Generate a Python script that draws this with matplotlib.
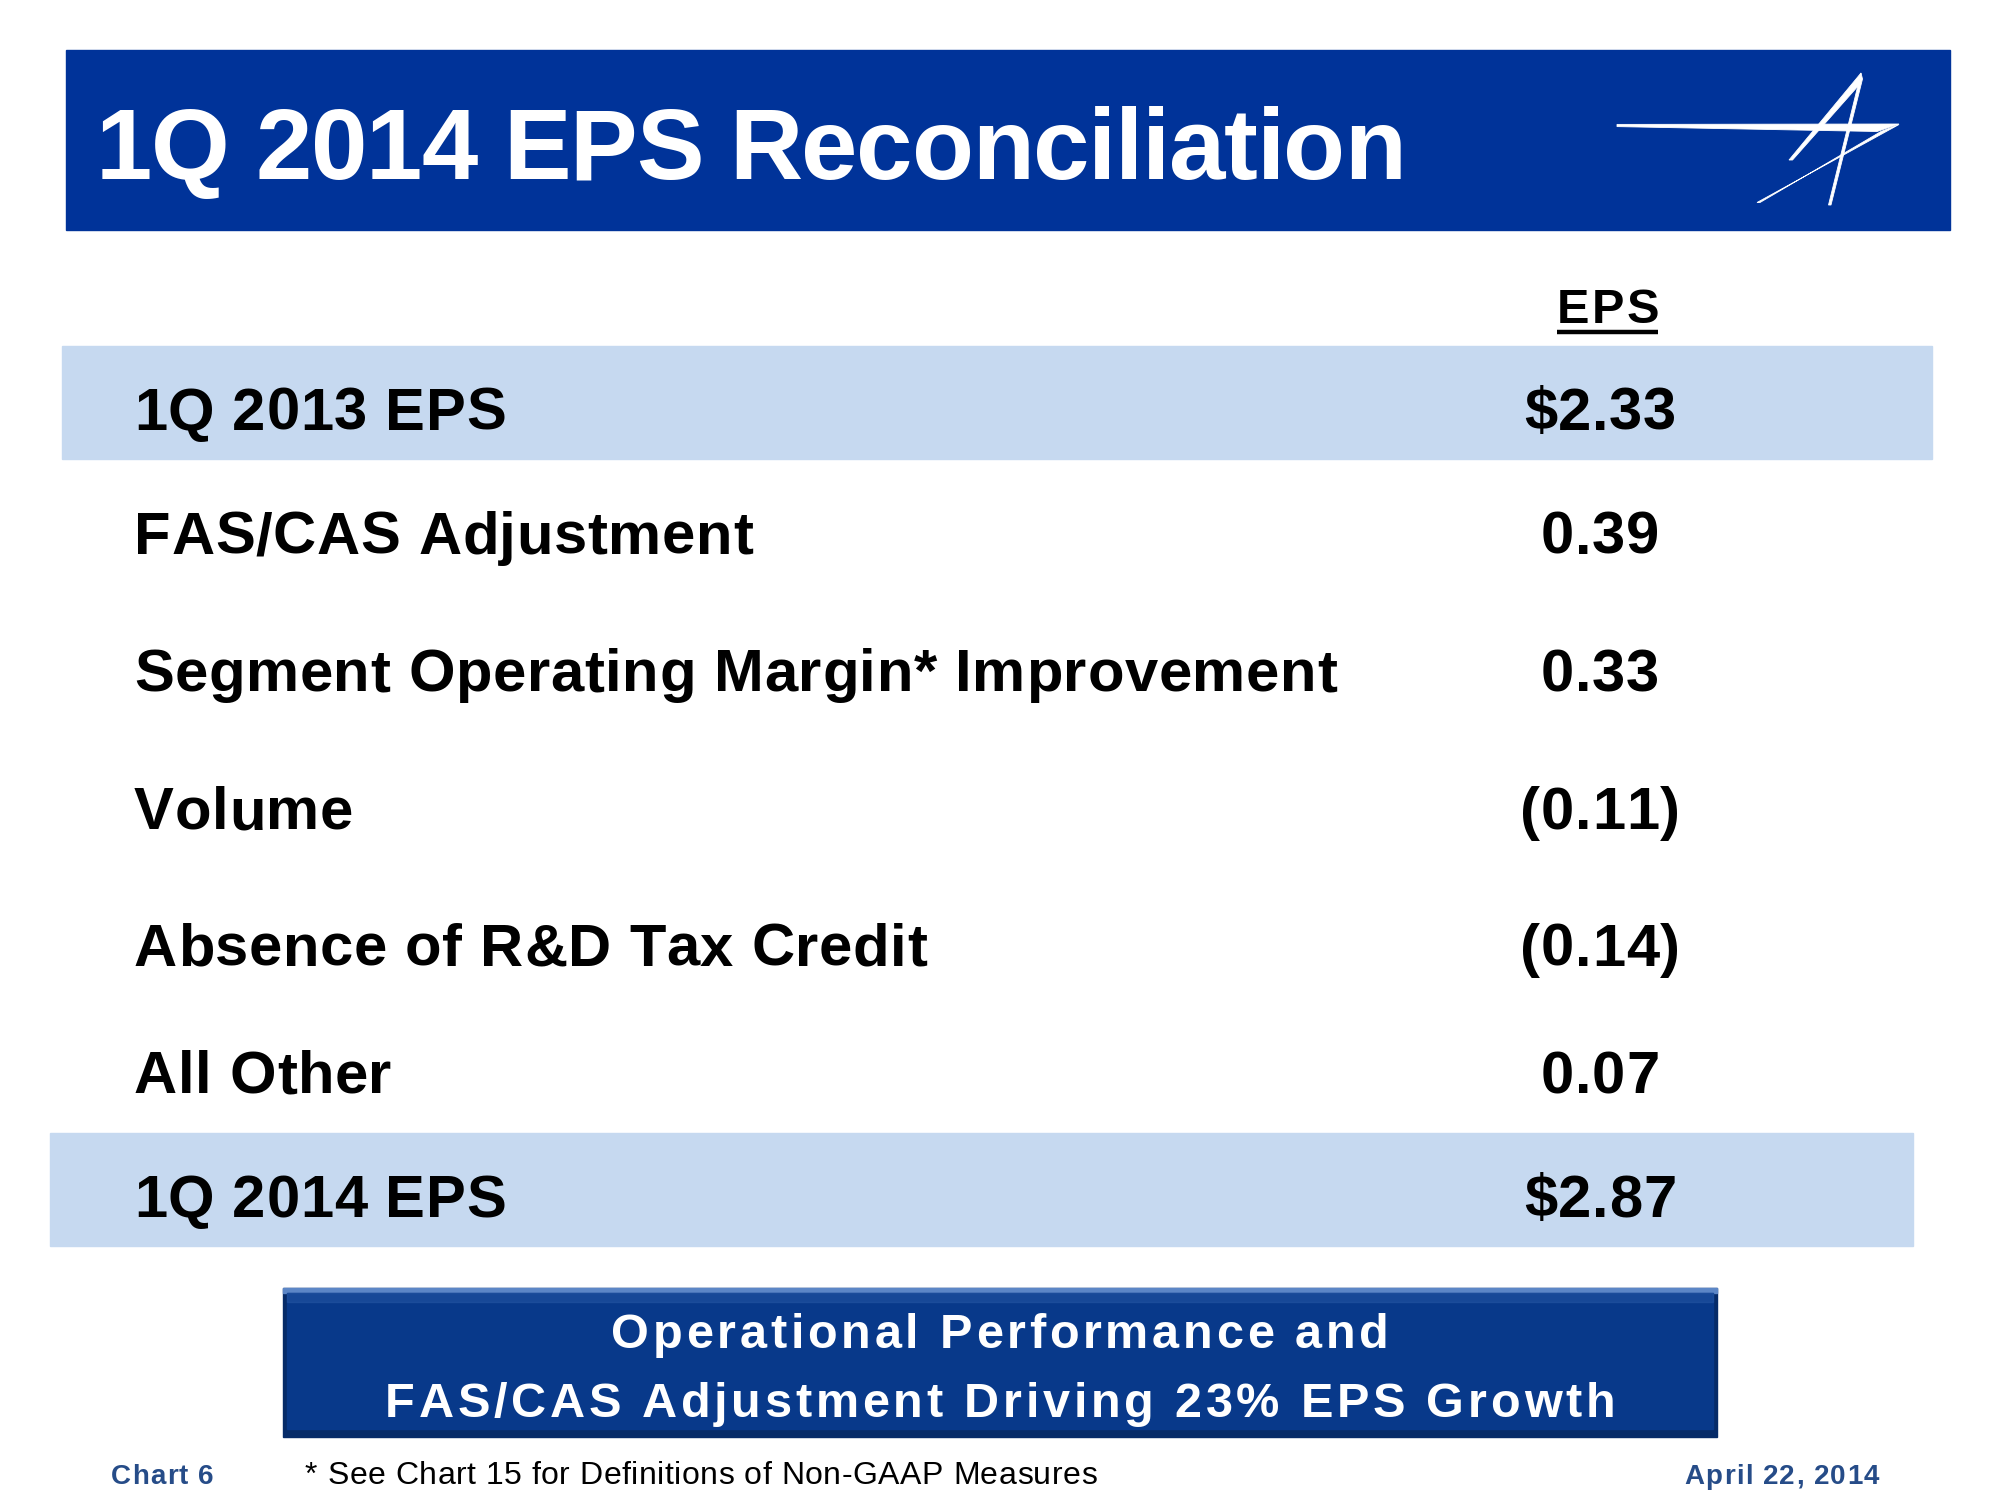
import matplotlib
matplotlib.use("Agg")
import matplotlib.pyplot as plt
from matplotlib.patches import Rectangle, Polygon
from matplotlib.font_manager import FontProperties, findfont, get_font

# ---------------- data ----------------
title = "1Q 2014 EPS Reconciliation"
column_header = "EPS"
row_labels = ["1Q 2013 EPS", "FAS/CAS Adjustment", "Segment Operating Margin* Improvement",
              "Volume", "Absence of R&D Tax Credit", "All Other", "1Q 2014 EPS"]
row_values = [2.33, 0.39, 0.33, -0.11, -0.14, 0.07, 2.87]
row_is_total = [True, False, False, False, False, False, True]
callout_lines = ["Operational Performance and", "FAS/CAS Adjustment Driving 23% EPS Growth"]
footer_left = "Chart 6"
footnote = "* See Chart 15 for Definitions of Non-GAAP Measures"
footer_right = "April 22, 2014"

# ---------------- style ----------------
BANNER = "#003399"
BAND = "#C6D9F0"
BOX = "#08398A"
FOOT_BLUE = "#264C88"
FAM = ["Liberation Sans Narrow", "Liberation Sans", "DejaVu Sans"]

W, H, DPI = 2000, 1500, 100
fig = plt.figure(figsize=(W / DPI, H / DPI), dpi=DPI)
ax = fig.add_axes([0, 0, 1, 1])
ax.set_xlim(0, W)
ax.set_ylim(H, 0)
ax.axis("off")


def fmt(v, total):
    if total:
        return f"${v:.2f}"
    if v < 0:
        return f"({abs(v):.2f})"
    return f"{v:.2f}"


def advances(s, size, weight):
    prop = FontProperties(family=FAM, weight=weight, size=size)
    font = get_font(findfont(prop))
    font.set_size(size, DPI)
    return [font.load_char(ord(c)).linearHoriAdvance / 65536.0 for c in s], prop


def natural_width(s, size, weight):
    adv, _ = advances(s, size, weight)
    return sum(adv)


def spaced(x, y, s, size, track, weight="bold", color="black", ha="left", underline=False):
    adv, prop = advances(s, size, weight)
    total = sum(adv) + track * (len(s) - 1)
    if ha == "center":
        x0 = x - total / 2
    elif ha == "right":
        x0 = x - total
    else:
        x0 = x
    cx = x0
    for c, a in zip(s, adv):
        ax.text(cx, y, c, fontproperties=prop, color=color, ha="left", va="baseline")
        cx += a + track
    if underline:
        ax.plot([x0, x0 + total - track * 0.3], [y + 9, y + 9], color=color, lw=3.2,
                solid_capstyle="butt")
    return total


def fit_track(s, size, weight, target):
    return (target - natural_width(s, size, weight)) / (len(s) - 1)


# ---------------- header banner ----------------
ax.add_patch(Rectangle((66, 50), 1884, 180, color=BANNER, zorder=0))
t_size = 73
spaced(96, 179, title, t_size, fit_track(title, t_size, "bold", 1310), color="white")

# logo (stylised star)
logo = [
    [[1617, 124.4], [1899, 124.0], [1877, 131.5], [1617, 126.6]],
    [[1899, 124.5], [1757, 202.5], [1760, 202.5], [1881, 131.5]],
    [[1861, 73], [1828.5, 205], [1831, 205], [1862.5, 79]],
    [[1861, 73], [1789, 160], [1792.5, 160], [1859, 85]],
]
for poly in logo:
    ax.add_patch(Polygon(poly, closed=True, color="white", lw=0.6))

# ---------------- table ----------------
r_size = 43
track_rows = fit_track(row_labels[2], r_size, "bold", 1203)
baselines = [430, 554, 691, 829, 966, 1093, 1217]
val_x = 1600

spaced(val_x + 8, 323, column_header, 35, track_rows * 0.9 + 1.5, underline=True, ha="center")

band_rects = {0: (62, 346, 1870, 113), 6: (50, 1133, 1863, 113)}
for i, (lab, v, tot) in enumerate(zip(row_labels, row_values, row_is_total)):
    if tot:
        bx, by, bw, bh = band_rects[i]
        ax.add_patch(Rectangle((bx, by), bw, bh, color=BAND, zorder=0))
    spaced(134, baselines[i], lab, r_size, track_rows)
    spaced(val_x, baselines[i], fmt(v, tot), r_size, track_rows, ha="center")

# ---------------- callout box ----------------
bx0, by0, bw, bh = 283, 1288, 1434, 149
ax.add_patch(Rectangle((bx0, by0), bw, bh, color="#062B68", zorder=1))
ax.add_patch(Rectangle((bx0, by0), bw, 5, color="#5C86C6", zorder=2))
ax.add_patch(Rectangle((bx0 + 4, by0 + 5), bw - 8, bh - 13, color=BOX, zorder=2))
ax.add_patch(Rectangle((bx0 + 4, by0 + 5), bw - 8, 9, color="#2A5CA8", zorder=2, alpha=0.45))
c_size = 35
track_c = fit_track(callout_lines[1], c_size, "bold", 1230)
spaced(1000, 1348, callout_lines[0], c_size, track_c, color="white", ha="center")
spaced(1000, 1417, callout_lines[1], c_size, track_c, color="white", ha="center")

# ---------------- footer ----------------
f_size = 23
track_f = fit_track(footnote, f_size, "normal", 792)
spaced(111, 1484, footer_left, 20, 1.2, color=FOOT_BLUE)
spaced(305, 1484, footnote, f_size, track_f, weight="normal")
spaced(1879, 1484, footer_right, 20, 1.2, color=FOOT_BLUE, ha="right")

fig.savefig("out.png", dpi=DPI, facecolor="white")
